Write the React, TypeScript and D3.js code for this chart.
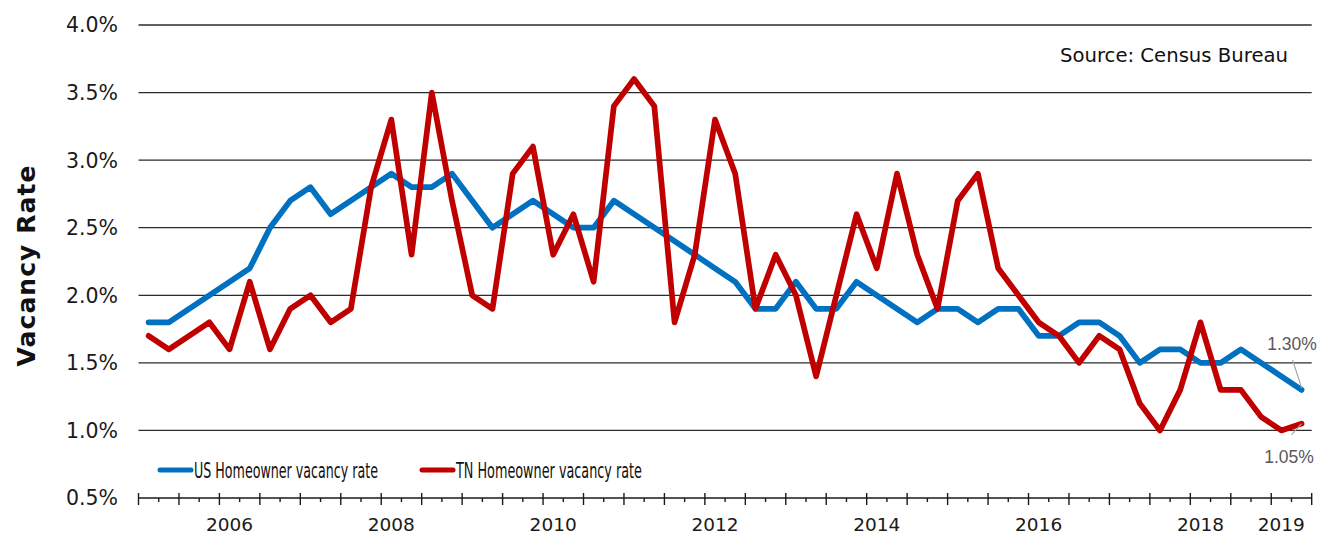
import React from "react";
import * as d3 from "d3";

const years = d3.range(2005, 2020);
const quarters: string[] = [];
years.forEach((y) => [1, 2, 3, 4].forEach((q) => quarters.push(`${y}Q${q}`)));
const categories = quarters.slice(0, 58); // 2005Q1 .. 2019Q2

const usRate = [
  1.8, 1.8, 1.9, 2.0, 2.1, 2.2, 2.5, 2.7, 2.8, 2.6, 2.7, 2.8, 2.9, 2.8, 2.8,
  2.9, 2.7, 2.5, 2.6, 2.7, 2.6, 2.5, 2.5, 2.7, 2.6, 2.5, 2.4, 2.3, 2.2,
  2.1, 1.9, 1.9, 2.1, 1.9, 1.9, 2.1, 2.0, 1.9, 1.8, 1.9, 1.9, 1.8, 1.9, 1.9,
  1.7, 1.7, 1.8, 1.8, 1.7, 1.5, 1.6, 1.6, 1.5, 1.5, 1.6, 1.5, 1.4, 1.3,
];
const tnRate = [
  1.7, 1.6, 1.7, 1.8, 1.6, 2.1, 1.6, 1.9, 2.0, 1.8, 1.9, 2.8, 3.3, 2.3, 3.5,
  2.7, 2.0, 1.9, 2.9, 3.1, 2.3, 2.6, 2.1, 3.4, 3.6, 3.4, 1.8, 2.3, 3.3,
  2.9, 1.9, 2.3, 2.0, 1.4, 2.0, 2.6, 2.2, 2.9, 2.3, 1.9, 2.7, 2.9, 2.2, 2.0,
  1.8, 1.7, 1.5, 1.7, 1.6, 1.2, 1.0, 1.3, 1.8, 1.3, 1.3, 1.1, 1.0, 1.05,
];
const yTicks = [0.5, 1.0, 1.5, 2.0, 2.5, 3.0, 3.5, 4.0];
const xLabelCats = ["2006Q1", "2008Q1", "2010Q1", "2012Q1", "2014Q1", "2016Q1", "2018Q1", "2019Q1"];
const xLabels = ["2006", "2008", "2010", "2012", "2014", "2016", "2018", "2019"];
const seriesNames = ["US Homeowner vacancy rate", "TN Homeowner vacancy rate"];
const seriesColors = ["#0070C0", "#C00000"];

const W = 1331;
const H = 536;
const X0 = 138.5;
const X1 = 1311.7;
const Y0 = 498;
const Y1 = 25;

export default function App() {
  const x = d3.scaleBand<string>().domain(categories).range([X0, X1]).padding(0);
  const bw = x.bandwidth();
  const cx = (c: string) => (x(c) as number) + bw / 2;
  const y = d3.scaleLinear().domain([0.5, 4.0]).range([Y0, Y1]);

  const line = d3
    .line<number>()
    .x((_, i) => cx(categories[i]))
    .y((d) => y(d));

  const boundaries = d3.range(0, categories.length + 1);
  const lastCat = categories[categories.length - 1];
  const lx = cx(lastCat);
  const usLastY = y(usRate[usRate.length - 1]);
  const tnLastY = y(tnRate[tnRate.length - 1]);

  const font = "'DejaVu Sans', sans-serif";

  return (
    <div style={{ position: "absolute", left: 0, top: 0 }}>
      <svg width={W} height={H} style={{ display: "block", background: "#fff" }}>
        {yTicks.slice(1).map((t) => (
          <line key={t} x1={X0} x2={X1} y1={y(t)} y2={y(t)} stroke="#2b2b2b" strokeWidth={1.3} />
        ))}
        <line x1={X0} x2={X1} y1={Y0} y2={Y0} stroke="#1a1a1a" strokeWidth={1.5} />
        {boundaries.map((k) => {
          const bx = X0 + k * bw;
          const major = k % 2 === 0;
          return (
            <line
              key={k}
              x1={bx}
              x2={bx}
              y1={major ? Y0 - 5 : Y0}
              y2={major ? Y0 + 7 : Y0 + 4}
              stroke="#1a1a1a"
              strokeWidth={1.4}
            />
          );
        })}
        {yTicks.map((t) => (
          <text
            key={t}
            x={118}
            y={y(t)}
            dy="0.36em"
            textAnchor="end"
            fontFamily={font}
            fontSize={20.5}
            fill="#1a1a1a"
          >
            {t.toFixed(1)}%
          </text>
        ))}
        {xLabelCats.map((c, i) => (
          <text key={c} x={cx(c)} y={531} textAnchor="middle" fontFamily={font} fontSize={18.5} fill="#1a1a1a">
            {xLabels[i]}
          </text>
        ))}
        <text
          transform={`translate(35,266) rotate(-90)`}
          textAnchor="middle"
          fontFamily={font}
          fontWeight="bold"
          fontSize={25}
          fill="#111"
          textLength={201}
          lengthAdjust="spacing"
        >
          Vacancy Rate
        </text>
        <text x={1060} y={62} fontFamily={font} fontSize={20} fill="#111" textLength={228} lengthAdjust="spacingAndGlyphs">
          Source: Census Bureau
        </text>
        <path d={line(usRate) || ""} fill="none" stroke={seriesColors[0]} strokeWidth={5.7} strokeLinejoin="round" strokeLinecap="round" />
        <path d={line(tnRate) || ""} fill="none" stroke={seriesColors[1]} strokeWidth={5.7} strokeLinejoin="round" strokeLinecap="round" />
        <line x1={lx - 9} y1={usLastY - 30} x2={lx} y2={usLastY - 2} stroke="#a6a6a6" strokeWidth={1.2} />
        <text x={1292} y={344} dy="0.35em" textAnchor="middle" fontFamily="'Liberation Sans', Arial, sans-serif" fontSize={17.5} fill="#595959">
          1.30%
        </text>
        <line x1={lx - 10} y1={tnLastY + 11} x2={lx} y2={tnLastY} stroke="#a6a6a6" strokeWidth={1.2} />
        <text x={1289} y={457} dy="0.35em" textAnchor="middle" fontFamily="'Liberation Sans', Arial, sans-serif" fontSize={17.5} fill="#595959">
          1.05%
        </text>
        {seriesNames.map((n, i) => {
          const sx = i === 0 ? 160 : 422;
          return (
            <g key={n}>
              <line x1={sx} x2={sx + 31} y1={470} y2={470} stroke={seriesColors[i]} strokeWidth={5} strokeLinecap="round" />
              <text
                x={sx + 34}
                y={478}
                fontFamily="'Liberation Sans Narrow', 'DejaVu Sans Condensed', 'Liberation Sans', sans-serif"
                fontSize={21.5}
                fill="#111"
                textLength={i === 0 ? 184 : 186}
                lengthAdjust="spacingAndGlyphs"
              >
                {n}
              </text>
            </g>
          );
        })}
      </svg>
    </div>
  );
}
